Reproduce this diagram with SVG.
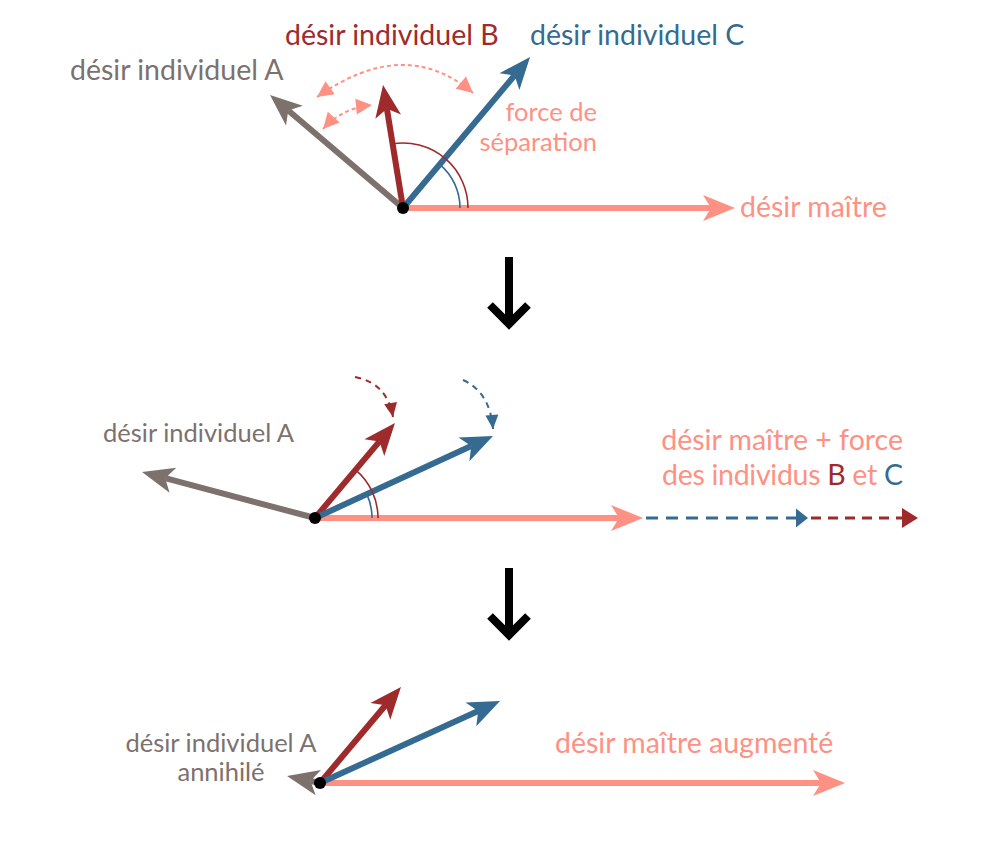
<svg xmlns="http://www.w3.org/2000/svg" width="1000" height="844" viewBox="0 0 1000 844">
<style>
text{font-family:Lato,"Liberation Sans",sans-serif}
.big{font-size:28.5px}
.mid{font-size:25.5px}
.vec{fill:none;stroke-width:6}
.pink{stroke:#fe9184}
.red{stroke:#9e2a2b}
.blue{stroke:#356a91}
.gray{stroke:#7d716d}
.arc{fill:none;stroke-width:1.6}
.dot{fill:#000}
.down{fill:none;stroke:#000;stroke-width:8}
</style>
<defs>
<marker id="hP" markerUnits="userSpaceOnUse" orient="auto" refX="0" refY="0" markerWidth="60" markerHeight="60" viewBox="-20 -30 60 60" overflow="visible"><path d="M24,0 L-8,-13 L0,0 L-8,13 Z" fill="#fe9184"/></marker>
<marker id="hR" markerUnits="userSpaceOnUse" orient="auto" refX="0" refY="0" markerWidth="60" markerHeight="60" viewBox="-20 -30 60 60" overflow="visible"><path d="M24,0 L-8,-13 L0,0 L-8,13 Z" fill="#9e2a2b"/></marker>
<marker id="hB" markerUnits="userSpaceOnUse" orient="auto" refX="0" refY="0" markerWidth="60" markerHeight="60" viewBox="-20 -30 60 60" overflow="visible"><path d="M24,0 L-8,-13 L0,0 L-8,13 Z" fill="#356a91"/></marker>
<marker id="hG" markerUnits="userSpaceOnUse" orient="auto" refX="0" refY="0" markerWidth="60" markerHeight="60" viewBox="-20 -30 60 60" overflow="visible"><path d="M24,0 L-8,-13 L0,0 L-8,13 Z" fill="#7d716d"/></marker>
<marker id="sP" markerUnits="userSpaceOnUse" orient="auto-start-reverse" refX="0" refY="0" markerWidth="40" markerHeight="40" viewBox="-20 -20 40 40" overflow="visible"><path d="M0,0 L-16,-8 L-16,8 Z" fill="#fe9184"/></marker>
<marker id="sR" markerUnits="userSpaceOnUse" orient="auto" refX="0" refY="0" markerWidth="40" markerHeight="40" viewBox="-20 -20 40 40" overflow="visible"><path d="M0,0 L-14,-6.5 L-14,6.5 Z" fill="#9e2a2b"/></marker>
<marker id="sB" markerUnits="userSpaceOnUse" orient="auto" refX="0" refY="0" markerWidth="40" markerHeight="40" viewBox="-20 -20 40 40" overflow="visible"><path d="M0,0 L-14,-6.5 L-14,6.5 Z" fill="#356a91"/></marker>
<marker id="tB" markerUnits="userSpaceOnUse" orient="auto" refX="0" refY="0" markerWidth="40" markerHeight="40" viewBox="-20 -20 40 40" overflow="visible"><path d="M6,0 L-6,-9.5 L-6,9.5 Z" fill="#356a91"/></marker>
<marker id="tR" markerUnits="userSpaceOnUse" orient="auto" refX="0" refY="0" markerWidth="40" markerHeight="40" viewBox="-20 -20 40 40" overflow="visible"><path d="M8,0 L-8,-10 L-8,10 Z" fill="#9e2a2b"/></marker>
</defs>

<g id="connectors">
  <!-- panel 1 -->
  <line class="vec pink" x1="403" y1="208" x2="711" y2="208" marker-end="url(#hP)"/>
  <line class="vec gray" x1="403" y1="208" x2="288.3" y2="110.5" marker-end="url(#hG)"/>
  <line class="vec red" x1="403" y1="208" x2="386.9" y2="108.7" marker-end="url(#hR)"/>
  <line class="vec blue" x1="403" y1="208" x2="514.6" y2="75.4" marker-end="url(#hB)"/>
  <path class="arc red" d="M392.6,143.8 A65,65 0 0 1 468,208"/>
  <path class="arc blue" d="M439.7,164.4 A57,57 0 0 1 460,208"/>
  <path d="M317,97 Q405,35 473,93" fill="none" stroke="#fe9184" stroke-width="2" stroke-dasharray="4,3" marker-start="url(#sP)" marker-end="url(#sP)"/>
  <path d="M323,129 Q342,108 372,105" fill="none" stroke="#fe9184" stroke-width="2" stroke-dasharray="4,3" marker-start="url(#sP)" marker-end="url(#sP)"/>
  <!-- down arrows -->
  <line class="down" x1="509" y1="257" x2="509" y2="322"/>
  <polyline class="down" points="490,305 509,324 528,305"/>
  <line class="down" x1="509" y1="568" x2="509" y2="633"/>
  <polyline class="down" points="490,616 509,635 528,616"/>
  <!-- panel 2 -->
  <line class="vec pink" x1="315" y1="518" x2="619" y2="518" marker-end="url(#hP)"/>
  <line class="blue" x1="646" y1="518" x2="802" y2="518" stroke-width="3" stroke-dasharray="12,8" marker-end="url(#tB)"/>
  <line class="red" x1="811" y1="518" x2="910" y2="518" stroke-width="3" stroke-dasharray="10,7" marker-end="url(#tR)"/>
  <line class="vec gray" x1="315" y1="518" x2="165.2" y2="478.2" marker-end="url(#hG)"/>
  <line class="vec red" x1="315" y1="518" x2="379.5" y2="441.4" marker-end="url(#hR)"/>
  <line class="vec blue" x1="315" y1="518" x2="471.2" y2="446" marker-end="url(#hB)"/>
  <path class="arc red" d="M355.6,469.8 A63,63 0 0 1 378,518"/>
  <path class="arc blue" d="M366.8,494.2 A57,57 0 0 1 372,518"/>
  <path d="M355,377 Q387,383 393,417" fill="none" class="red" stroke-width="2" stroke-dasharray="6,5" marker-end="url(#sR)"/>
  <path d="M463,380 Q490,392 493,429" fill="none" class="blue" stroke-width="2" stroke-dasharray="6,5" marker-end="url(#sB)"/>
  <!-- panel 3 -->
  <line class="vec pink" x1="320" y1="783" x2="821" y2="783" marker-end="url(#hP)"/>
  <line class="vec gray" x1="320" y1="783" x2="310.5" y2="781" marker-end="url(#hG)"/>
  <line class="vec red" x1="320" y1="783" x2="385.5" y2="705.3" marker-end="url(#hR)"/>
  <line class="vec blue" x1="320" y1="783" x2="478.2" y2="711" marker-end="url(#hB)"/>
</g>

<g id="origin1"><circle class="dot" cx="403" cy="208" r="6"/></g>
<g id="origin2"><circle class="dot" cx="315" cy="518" r="6"/></g>
<g id="origin3"><circle class="dot" cx="320" cy="783" r="6"/></g>

<g id="label-A1"><text class="big" x="70" y="80" fill="#7d716d">désir individuel A</text></g>
<g id="label-B1"><text class="big" x="285" y="45" fill="#9e2a2b">désir individuel B</text></g>
<g id="label-C1"><text class="big" x="530" y="45" fill="#356a91">désir individuel C</text></g>
<g id="label-force"><text class="mid" x="597" y="121" fill="#fe9184" text-anchor="end">force de</text><text class="mid" x="597" y="151" fill="#fe9184" text-anchor="end">séparation</text></g>
<g id="label-maitre1"><text class="big" x="740" y="217" fill="#fe9184">désir maître</text></g>

<g id="label-A2"><text class="mid" x="103" y="442" fill="#7d716d">désir individuel A</text></g>
<g id="label-maitre2"><text class="big" x="903" y="450" fill="#fe9184" text-anchor="end">désir maître + force</text><text class="big" x="903" y="485" fill="#fe9184" text-anchor="end" textLength="241" lengthAdjust="spacing">des individus <tspan fill="#9e2a2b">B</tspan> et <tspan fill="#356a91">C</tspan></text></g>

<g id="label-A3"><text class="mid" x="221" y="752" fill="#7d716d" text-anchor="middle">désir individuel A</text><text class="mid" x="221" y="781" fill="#7d716d" text-anchor="middle">annihilé</text></g>
<g id="label-maitre3"><text class="big" x="555" y="753" fill="#fe9184">désir maître augmenté</text></g>
</svg>
